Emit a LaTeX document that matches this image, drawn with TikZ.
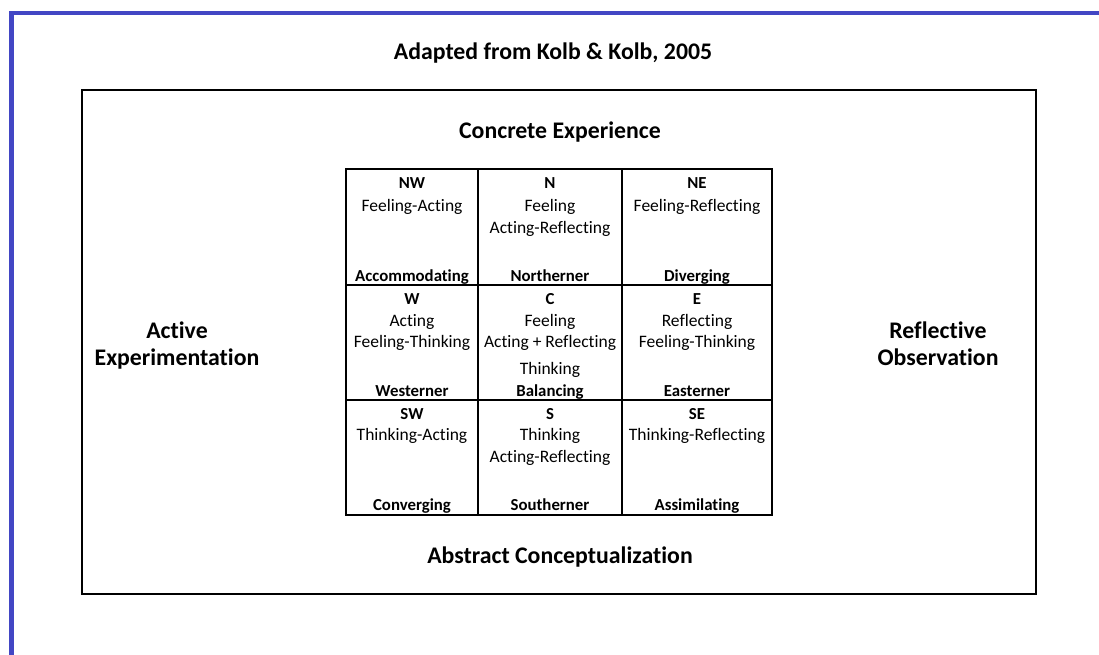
\documentclass[tikz,border=0pt]{standalone}
\usepackage{fontspec}
\setmainfont[Ligatures={NoCommon},Contextuals={NoAlternate}]{Carlito}
\definecolor{frameblue}{RGB}{66,70,196}
\begin{document}
\begin{tikzpicture}[x=1pt,y=-1pt,
  txt/.style={inner sep=0pt,anchor=base,font=\fontsize{17.5}{20}\selectfont},
  bld/.style={txt,font=\fontsize{16.8}{20}\selectfont\bfseries},
  big/.style={inner sep=0pt,anchor=base,font=\fontsize{23.8}{28}\selectfont\bfseries},
  gridline/.style={draw=black,line width=1.6pt}]
\useasboundingbox (0,0) rectangle (1099,655);
\fill[white] (0,0) rectangle (1099,655);
% blue frame (top and left)
\fill[frameblue] (9,11) rectangle (1099,15);
\fill[frameblue] (9,11) rectangle (14,655);
% outer box
\draw[line width=2pt] (82,90) rectangle (1036,594);
% grid
\draw[gridline] (346,169) rectangle (772,515);
\draw[gridline] (478,169) -- (478,515);
\draw[gridline] (622,169) -- (622,515);
\draw[gridline] (346,285) -- (772,285);
\draw[gridline] (346,400) -- (772,400);
% titles
\node[big] (title) at (553,60) {Adapted from Kolb \& Kolb, 2005};
\node[big] (ce) at (560,139) {Concrete Experience};
\node[big] (ac) at (560,563) {Abstract Conceptualization};
\node[big] (ae1) at (177,338) {Active};
\node[big] (ae2) at (177,365) {Experimentation};
\node[big] (ro1) at (938,338) {Reflective};
\node[big] (ro2) at (938,365) {Observation};
% row 1
\node[bld] (nw) at (412,189) {NW};
\node[txt] (nw1) at (412,211) {Feeling-Acting};
\node[bld] (nwb) at (412,281) {Accommodating};
\node[bld] (n) at (550,189) {N};
\node[txt] (n1) at (550,211) {Feeling};
\node[txt] (n2) at (550,233) {Acting-Reflecting};
\node[bld] (nb) at (550,281) {Northerner};
\node[bld] (ne) at (697,189) {NE};
\node[txt] (ne1) at (697,211) {Feeling-Reflecting};
\node[bld] (neb) at (697,281) {Diverging};
% row 2
\node[bld] (w) at (412,304) {W};
\node[txt] (w1) at (412,326) {Acting};
\node[txt] (w2) at (412,347) {Feeling-Thinking};
\node[bld] (wb) at (412,396) {Westerner};
\node[bld] (c) at (550,304) {C};
\node[txt] (c1) at (550,326) {Feeling};
\node[txt] (c2) at (550,347) {Acting + Reflecting};
\node[txt] (c3) at (550,374) {Thinking};
\node[bld] (cb) at (550,396) {Balancing};
\node[bld] (e) at (697,304) {E};
\node[txt] (e1) at (697,326) {Reflecting};
\node[txt] (e2) at (697,347) {Feeling-Thinking};
\node[bld] (eb) at (697,396) {Easterner};
% row 3
\node[bld] (sw) at (412,419) {SW};
\node[txt] (sw1) at (412,440) {Thinking-Acting};
\node[bld] (swb) at (412,510) {Converging};
\node[bld] (s) at (550,419) {S};
\node[txt] (s1) at (550,440) {Thinking};
\node[txt] (s2) at (550,462) {Acting-Reflecting};
\node[bld] (sb) at (550,510) {Southerner};
\node[bld] (se) at (697,419) {SE};
\node[txt] (se1) at (697,440) {Thinking-Reflecting};
\node[bld] (seb) at (697,510) {Assimilating};
\end{tikzpicture}
\end{document}
